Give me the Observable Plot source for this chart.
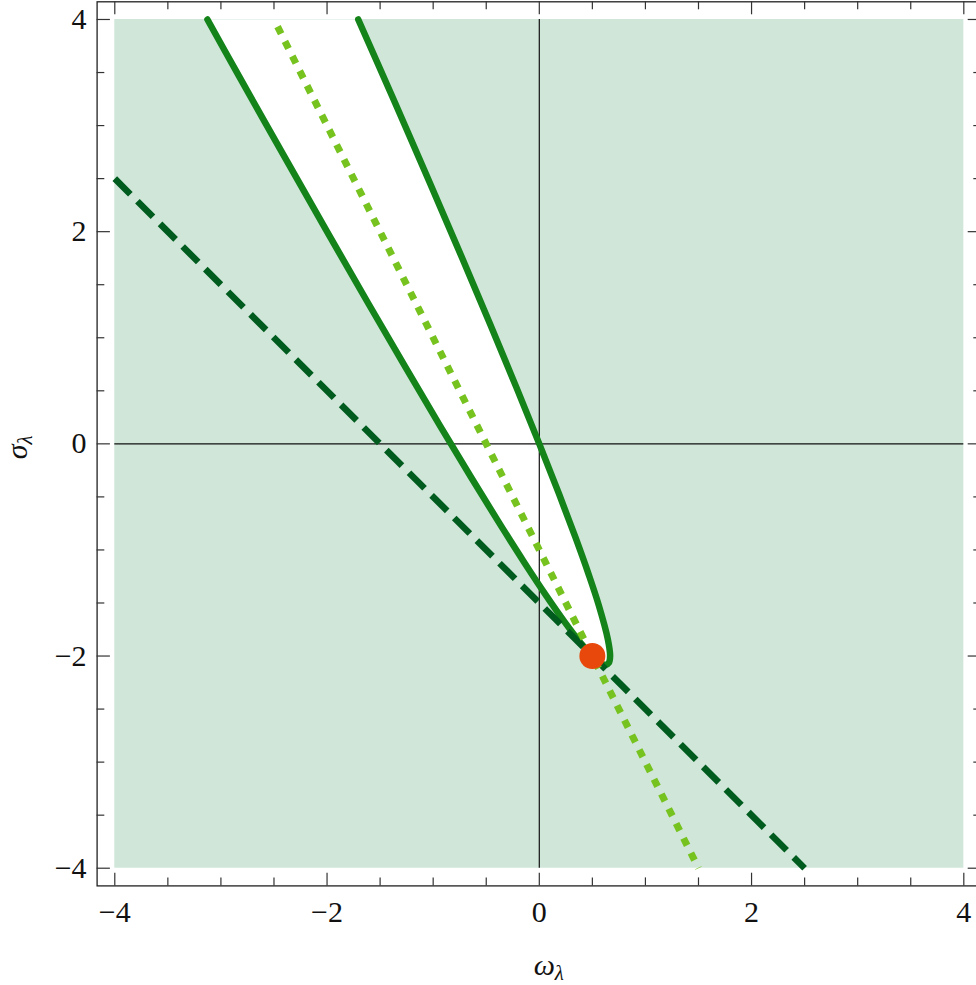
<!DOCTYPE html>
<html>
<head>
<meta charset="utf-8">
<script src="https://cdn.jsdelivr.net/npm/d3@7"></script>
<script src="https://cdn.jsdelivr.net/npm/@observablehq/plot@0.6"></script>
<style>
  body { margin: 0; background: #fff; }
  #chart svg { overflow: hidden; display: block; }
  #chart svg text { font-family: "Liberation Serif", "Times New Roman", "DejaVu Serif", serif !important; }
</style>
</head>
<body>
<div id="chart"></div>
<script>
// ---- data ----
const regionOmega = [-4, 4];
const regionSigma = [-4, 4];

// boundary curve of the white (unshaded) region
const curveOmega = [-3.127, -2.86, -2.415, -2.0, -1.615, -1.26, -0.935, -0.64, -0.375, -0.14, 0.065, 0.24, 0.385, 0.5, 0.546, 0.585, 0.625, 0.656, 0.667, 0.646, 0.56, 0.465, 0.34, 0.185, 0.0, -0.215, -0.46, -0.735, -1.04, -1.375, -1.706];
const curveSigma = [4.0, 3.52, 2.73, 2.0, 1.33, 0.72, 0.17, -0.32, -0.75, -1.12, -1.43, -1.68, -1.87, -2.0, -2.0425, -2.07, -2.083, -2.0625, -2.0, -1.8425, -1.52, -1.23, -0.88, -0.47, 0.0, 0.53, 1.12, 1.77, 2.48, 3.25, 4.0];

const dashedOmega = [-4, 2.5];
const dashedSigma = [2.5, -4];
const dottedOmega = [-2.5, 1.5];
const dottedSigma = [4, -4];
const pointOmega = [0.5];
const pointSigma = [-2];

const majorTicks = [-4, -2, 0, 2, 4];
const minorTicks = [-3.5, -3, -2.5, -1.5, -1, -0.5, 0.5, 1, 1.5, 2.5, 3, 3.5];
const tickLabels = ["\u22124", "\u22122", "0", "2", "4"];

// ---- build tables ----
const curve = curveOmega.map((w, i) => ({w, s: curveSigma[i]}));
const dashed = dashedOmega.map((w, i) => ({w, s: dashedSigma[i]}));
const dotted = dottedOmega.map((w, i) => ({w, s: dottedSigma[i]}));
const point = pointOmega.map((w, i) => ({w, s: pointSigma[i]}));
const region = [{x1: regionOmega[0], x2: regionOmega[1], y1: regionSigma[0], y2: regionSigma[1]}];
const labels = majorTicks.map((v, i) => ({v, t: tickLabels[i]}));

const W = 976, H = 985;
const mL = 96.6, mR = -5, mT = 1.3, mB = 99.6;
const fw = W - mR - mL, fh = H - mB - mT;
const pad = 4.1667;
const serif = "Liberation Serif, Times New Roman, DejaVu Serif, serif";
const tickColor = "#333";

const chart = Plot.plot({
  width: W,
  height: H,
  marginLeft: mL, marginRight: mR, marginTop: mT, marginBottom: mB,
  x: {domain: [-pad, pad], axis: null},
  y: {domain: [-pad, pad], axis: null},
  marks: [
    Plot.rect(region, {x1: "x1", x2: "x2", y1: "y1", y2: "y2", fill: "#cfe6d8"}),
    Plot.line(curve, {x: "w", y: "s", fill: "white", stroke: "none", curve: "catmull-rom"}),
    Plot.ruleX([0], {y1: regionSigma[0], y2: regionSigma[1], stroke: "#111", strokeWidth: 1.2}),
    Plot.ruleY([0], {x1: regionOmega[0], x2: regionOmega[1], stroke: "#111", strokeWidth: 1.2}),
    Plot.line(curve, {x: "w", y: "s", stroke: "#14841a", strokeWidth: 6.5, curve: "catmull-rom"}),
    Plot.line(dashed, {x: "w", y: "s", stroke: "#005c1e", strokeWidth: 6.5, strokeLinecap: "butt", strokeDasharray: "22,10"}),
    Plot.line(dotted, {x: "w", y: "s", stroke: "#76c21f", strokeWidth: 7, strokeLinecap: "butt", strokeDasharray: "8,8.5", strokeDashoffset: -8}),
    Plot.dot(point, {x: "w", y: "s", r: 13, fill: "#e8480c", stroke: "none"}),
    // frame
    Plot.frame({stroke: "#222", strokeWidth: 1.3}),
    // ticks: bottom
    Plot.tickX(majorTicks, {x: d => d, insetTop: fh - 12.7, stroke: tickColor, strokeWidth: 1.2}),
    Plot.tickX(minorTicks, {x: d => d, insetTop: fh - 8, stroke: tickColor, strokeWidth: 1.2}),
    // ticks: top
    Plot.tickX(majorTicks, {x: d => d, insetBottom: fh - 13, stroke: tickColor, strokeWidth: 1.2}),
    Plot.tickX(minorTicks, {x: d => d, insetBottom: fh - 8, stroke: tickColor, strokeWidth: 1.2}),
    // ticks: left
    Plot.tickY(majorTicks, {y: d => d, insetRight: fw - 13.3, stroke: tickColor, strokeWidth: 1.2}),
    Plot.tickY(minorTicks, {y: d => d, insetRight: fw - 7.7, stroke: tickColor, strokeWidth: 1.2}),
    // ticks: right
    Plot.tickY(majorTicks, {y: d => d, insetLeft: fw - 13.3, stroke: tickColor, strokeWidth: 1.2}),
    Plot.tickY(minorTicks, {y: d => d, insetLeft: fw - 7.7, stroke: tickColor, strokeWidth: 1.2}),
    // tick labels
    Plot.text(labels, {y: "v", text: "t", frameAnchor: "left", textAnchor: "end", dx: -10.5, lineAnchor: "middle", fontSize: 30, fontFamily: serif, fill: "#111"}),
    Plot.text(labels, {x: "v", text: "t", frameAnchor: "bottom", lineAnchor: "top", dy: 15, fontSize: 30, fontFamily: serif, fill: "#111"})
  ]
});

document.getElementById("chart").appendChild(chart);

// axis titles with subscripts
const svg = d3.select(chart);
const xs = chart.scale("x"), ys = chart.scale("y");
const xl = svg.append("text")
  .attr("x", xs.apply(0) + 10).attr("y", 975)
  .attr("text-anchor", "middle")
  .attr("font-family", serif).attr("font-style", "italic").attr("font-size", 30).attr("fill", "#111");
xl.append("tspan").text("ω");
xl.append("tspan").attr("dy", 5).attr("font-size", 21).text("λ");

const yl = svg.append("text")
  .attr("transform", `translate(26.5, ${ys.apply(0) + 4}) rotate(-90)`)
  .attr("text-anchor", "middle")
  .attr("font-family", serif).attr("font-style", "italic").attr("font-size", 30).attr("fill", "#111");
yl.append("tspan").text("σ");
yl.append("tspan").attr("dy", 5).attr("font-size", 21).text("λ");
</script>
</body>
</html>
